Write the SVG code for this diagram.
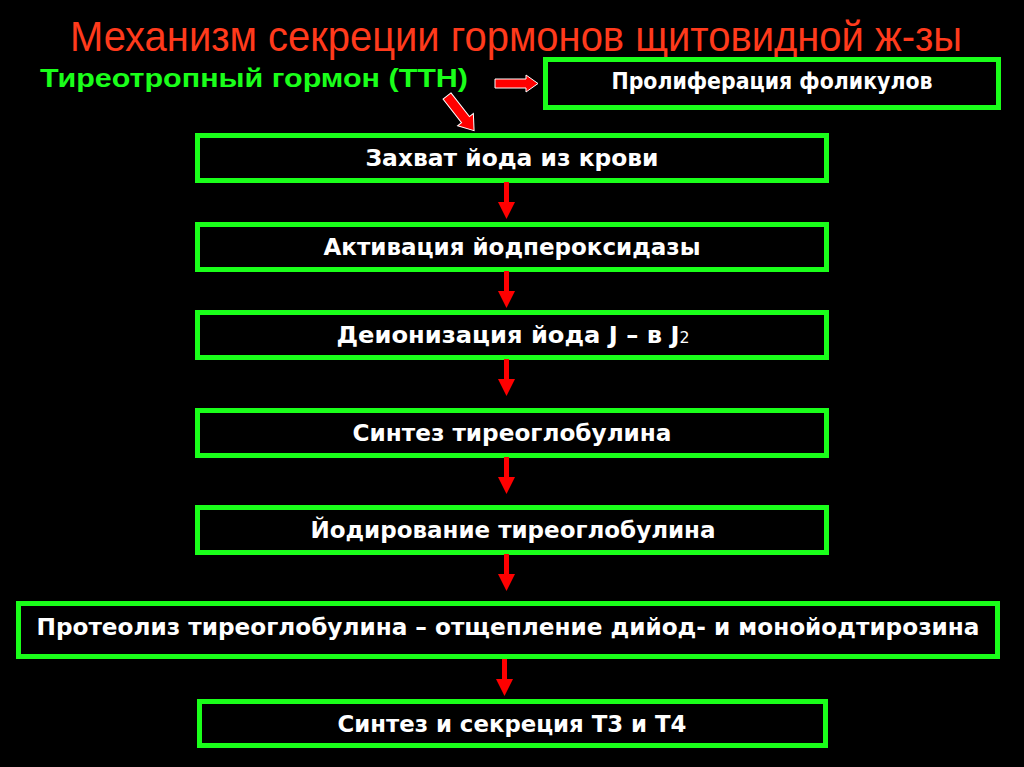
<svg xmlns="http://www.w3.org/2000/svg" width="1024" height="767" viewBox="0 0 1024 767">
<defs>
<style>
.box{fill:#000;stroke:#1aff1a;stroke-width:5}
.lbl{font-family:"DejaVu Sans","Liberation Sans",sans-serif;font-weight:bold;font-size:23px;fill:#fff;text-anchor:middle}
.arr{fill:#ff0000}
</style>
<g id="varrow"><rect x="-2.5" y="0" width="5" height="21" class="arr"/><polygon points="-8.5,20 8.5,20 0,37" class="arr"/></g>
</defs>
<rect width="1024" height="767" fill="#000"/>
<text x="0" y="0" transform="translate(516,51) scale(1,1.2)" font-family="Liberation Sans,Arial,sans-serif" font-size="36" fill="#ff3a1c" text-anchor="middle" textLength="892" lengthAdjust="spacingAndGlyphs">Механизм секреции гормонов щитовидной ж-зы</text>
<text x="40" y="87" font-family="Liberation Sans,Arial,sans-serif" font-weight="bold" font-size="26" fill="#1aff1a" textLength="428" lengthAdjust="spacingAndGlyphs">Тиреотропный гормон (ТТН)</text>
<g id="n0"><rect class="box" x="545.5" y="59.5" width="453" height="48"/><text class="lbl" x="772" y="89" font-size="21" textLength="321" lengthAdjust="spacingAndGlyphs">Пролиферация фоликулов</text></g>
<g id="n1"><rect class="box" x="197.5" y="135.5" width="629" height="45"/><text class="lbl" x="512" y="166" textLength="293" lengthAdjust="spacingAndGlyphs">Захват йода из крови</text></g>
<g id="n2"><rect class="box" x="197.5" y="224.5" width="629" height="45"/><text class="lbl" x="512" y="255" textLength="377" lengthAdjust="spacingAndGlyphs">Активация йодпероксидазы</text></g>
<g id="n3"><rect class="box" x="197.5" y="312.5" width="629" height="45"/><text class="lbl" x="513" y="343" textLength="353" lengthAdjust="spacingAndGlyphs">Деионизация йода J – в J<tspan font-size="15" font-weight="normal">2</tspan></text></g>
<g id="n4"><rect class="box" x="197.5" y="410.5" width="629" height="45"/><text class="lbl" x="512" y="441" textLength="319" lengthAdjust="spacingAndGlyphs">Синтез тиреоглобулина</text></g>
<g id="n5"><rect class="box" x="197.5" y="507.5" width="629" height="45"/><text class="lbl" x="513" y="538" textLength="405" lengthAdjust="spacingAndGlyphs">Йодирование тиреоглобулина</text></g>
<g id="n6"><rect class="box" x="18.5" y="603.5" width="979" height="53"/><text class="lbl" x="508" y="635" textLength="943" lengthAdjust="spacingAndGlyphs">Протеолиз тиреоглобулина – отщепление дийод- и монойодтирозина</text></g>
<g id="n7"><rect class="box" x="199.5" y="701.5" width="626" height="44"/><text class="lbl" x="512" y="732" textLength="349" lengthAdjust="spacingAndGlyphs">Синтез и секреция Т3 и Т4</text></g>
<g id="connectors">
<polygon points="495,79 526,79 526,75 538,83.5 526,92 526,88 495,88" fill="#ff0000" stroke="#ffffff" stroke-width="1"/>
<polygon points="0,-5 30,-5 30,-10 44,0 30,10 30,5 0,5" fill="#ff0000" stroke="#ffffff" stroke-width="1" transform="translate(447,96) rotate(52)"/>
<use href="#varrow" x="506.5" y="182"/>
<use href="#varrow" x="506.5" y="271"/>
<use href="#varrow" x="506.5" y="359"/>
<use href="#varrow" x="506.5" y="457"/>
<use href="#varrow" x="506.5" y="554"/>
<use href="#varrow" x="504.5" y="659"/>
</g>
</svg>
